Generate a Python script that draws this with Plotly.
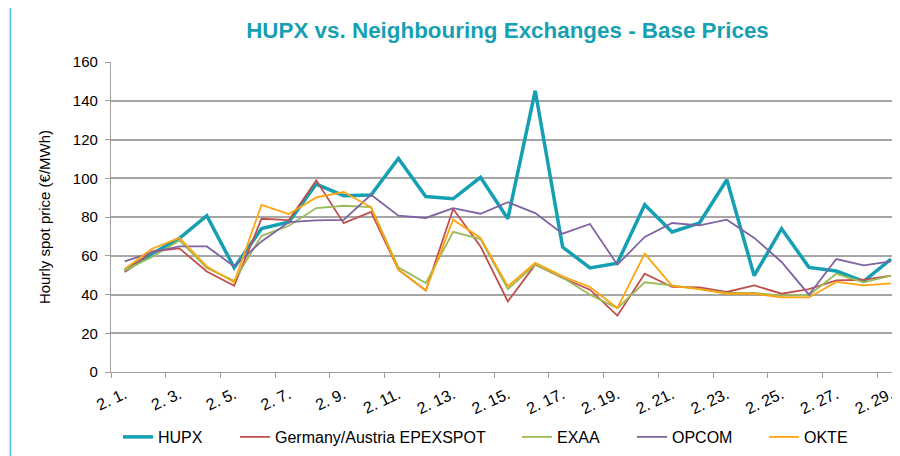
import plotly.graph_objects as go

# ---- data ----
days = list(range(1, 30))
day_labels = [f"2. {d}." for d in days]

hupx = [52.3, 61.0, 69.0, 80.7, 53.8, 74.0, 77.5, 97.0, 91.0, 91.3, 110.2, 90.6, 89.4, 100.5, 79.1,
        145.2, 64.5, 53.7, 56.2, 86.3, 72.3, 76.9, 99.2, 49.7, 74.0, 54.0, 52.1, 46.8, 58.3]
germany_austria = [51.6, 62.2, 63.8, 51.9, 44.5, 79.1, 78.4, 98.9, 76.8, 82.6, 52.8, 42.1, 84.1, 64.8, 36.4,
                   55.4, 48.5, 42.5, 29.1, 50.7, 43.9, 43.7, 41.3, 44.7, 40.4, 42.8, 47.3, 47.6, 49.7]
exaa = [52.4, 59.4, 67.9, 53.7, 47.1, 70.3, 75.5, 84.6, 85.8, 85.1, 54.0, 45.9, 72.3, 68.6, 42.8,
        55.4, 48.8, 39.9, 33.0, 46.3, 44.7, 42.8, 40.8, 40.8, 39.4, 39.6, 50.7, 46.3, 49.7]
opcom = [57.1, 61.7, 64.8, 64.8, 54.5, 67.4, 77.4, 78.3, 78.5, 91.5, 80.7, 79.5, 84.6, 81.7, 87.6,
         82.0, 71.4, 76.4, 55.4, 69.7, 76.9, 75.7, 78.6, 69.2, 56.8, 39.9, 58.3, 55.0, 57.1]
okte = [53.2, 63.6, 69.2, 54.5, 46.3, 86.3, 81.5, 90.1, 92.9, 85.0, 52.8, 42.1, 78.6, 69.2, 44.2,
        56.3, 49.4, 43.9, 33.0, 61.1, 44.5, 42.8, 40.4, 40.4, 38.5, 38.5, 46.5, 44.7, 45.7]

series_names = ["HUPX", "Germany/Austria EPEXSPOT", "EXAA", "OPCOM", "OKTE"]
series_values = [hupx, germany_austria, exaa, opcom, okte]
series_colors = ["#14a0b2", "#c0504d", "#9bbb59", "#8064a2", "#ffa30f"]
series_widths = [3.5, 1.8, 1.8, 1.8, 1.8]

tick_days = days[::2]
tick_text = day_labels[::2]
y_ticks = list(range(0, 161, 20))

# ---- layout geometry (pixels); the page body adds an 8 px offset ----
OFF = 8
W, H = 900 - OFF, 456 - OFF
L, R = 111 - OFF, 0
T = 62 - OFF
B = H - (372 - OFF)
plot_w = W - L - R
plot_h = H - T - B


def px_x(p):  # p in reference-image pixels
    return (p - OFF - L) / plot_w


def px_y(p):
    return (H - B - (p - OFF)) / plot_h


FONT = "Arial, Liberation Sans, sans-serif"

fig = go.Figure()
legend_keys = ["legend", "legend2", "legend3", "legend4", "legend5"]
legend_px = [118, 235, 517, 632, 764]

for name, vals, col, lw, lk in zip(series_names, series_values, series_colors, series_widths, legend_keys):
    fig.add_trace(go.Scatter(
        x=days, y=vals, name=name, mode="lines",
        line=dict(color=col, width=lw),
        legend=lk,
    ))

legend_common = dict(orientation="h", yanchor="middle", xanchor="left",
                     font=dict(family=FONT, size=16, color="#000000"),
                     bgcolor="rgba(0,0,0,0)", borderwidth=0)
lay = {}
for lk, lx in zip(legend_keys, legend_px):
    lay[lk] = dict(x=px_x(lx), y=px_y(437), **legend_common)

fig.update_layout(
    width=W, height=H,
    margin=dict(l=L, r=R, t=T, b=B, autoexpand=False),
    paper_bgcolor="white", plot_bgcolor="white",
    font=dict(family=FONT, size=15, color="#000000"),
    title=dict(text="<b>HUPX vs. Neighbouring Exchanges - Base Prices</b>",
               font=dict(family=FONT, size=22.4, color="#179fb3"),
               x=px_x(507.5), xref="paper", xanchor="center",
               y=1 - (30 - OFF) / H, yref="container", yanchor="middle"),
    showlegend=True,
    xaxis=dict(
        range=[0.5, 0.5 + plot_w / 27.37],
        tickmode="array", tickvals=tick_days, ticktext=tick_text,
        tickangle=-25, ticks="", showgrid=False,
        showline=True, linecolor="#a0a0a0", linewidth=1.3,
        tickfont=dict(family=FONT, size=16, color="#000000"),
        ticklabelstandoff=6,
        minor=dict(tickvals=[d - 0.5 for d in tick_days], ticks="outside",
                   ticklen=5, tickcolor="#a0a0a0", tickwidth=1.3, showgrid=False),
        zeroline=False, fixedrange=True,
    ),
    yaxis=dict(
        range=[0, 160], tickmode="array", tickvals=y_ticks,
        showgrid=True, gridcolor="#a6a6a6", gridwidth=1.5,
        showline=True, linecolor="#a0a0a0", linewidth=1.3,
        ticks="outside", ticklen=5, tickcolor="#a0a0a0", tickwidth=1.3,
        tickfont=dict(family=FONT, size=15, color="#000000"),
        ticklabelstandoff=4,
        zeroline=False,
        title=dict(text="Hourly spot price (€/MWh)",
                   font=dict(family=FONT, size=15, color="#000000"),
                   standoff=18),
    ),
    shapes=[dict(type="rect", xref="paper", yref="paper",
                 x0=px_x(10.5), x1=px_x(1000), y0=px_y(520), y1=px_y(5),
                 line=dict(color="#55c1d2", width=1.6), fillcolor="rgba(0,0,0,0)",
                 layer="below")],
    **lay,
)

fig.write_html("out.html")
